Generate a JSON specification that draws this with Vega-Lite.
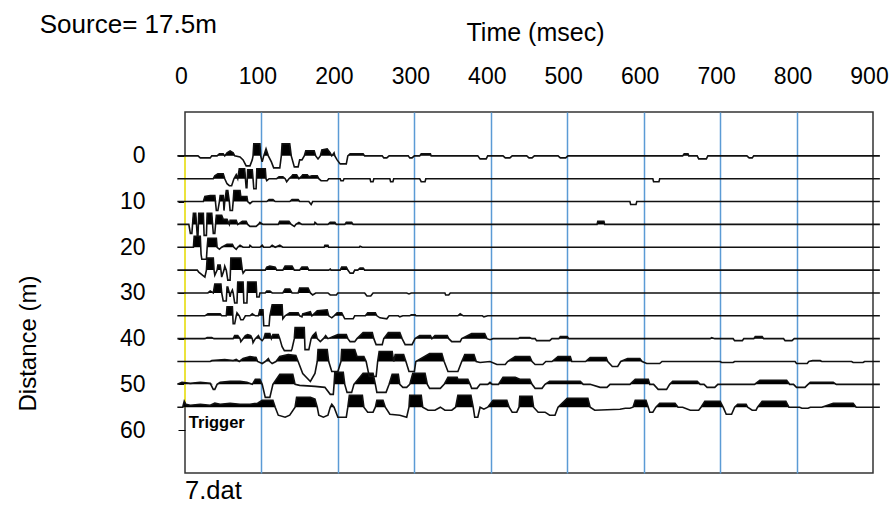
{
 "$schema": "https://vega.github.io/schema/vega-lite/v6.json",
 "width": 688, "height": 361,
 "autosize": {"type": "none"},
 "padding": {"left": 185, "top": 112, "right": 16, "bottom": 35},
 "background": "white",
 "config": {"view": {"stroke": "#333333", "strokeWidth": 1.5}, "font": "Liberation Sans"},
 "datasets": {
  "traces": [
{"d":0,"t":-10,"a":0},{"d":0,"t":17,"a":0},{"d":0,"t":20,"a":-2},{"d":0,"t":33,"a":-2},{"d":0,"t":35,"a":0},{"d":0,"t":42,"a":0},{"d":0,"t":45,"a":2},{"d":0,"t":50,"a":2},{"d":0,"t":52,"a":0},{"d":0,"t":55,"a":3},{"d":0,"t":59,"a":5},{"d":0,"t":63,"a":3},{"d":0,"t":65,"a":0},{"d":0,"t":72,"a":-1},{"d":0,"t":76,"a":-4},{"d":0,"t":80,"a":-10},{"d":0,"t":85,"a":-10},{"d":0,"t":88,"a":-4},{"d":0,"t":89,"a":0},{"d":0,"t":90,"a":12},{"d":0,"t":98,"a":12},{"d":0,"t":99,"a":0},{"d":0,"t":101,"a":-6},{"d":0,"t":103,"a":0},{"d":0,"t":106,"a":7},{"d":0,"t":109,"a":0},{"d":0,"t":113,"a":-6},{"d":0,"t":116,"a":-12},{"d":0,"t":124,"a":-12},{"d":0,"t":126,"a":0},{"d":0,"t":127,"a":12},{"d":0,"t":137,"a":12},{"d":0,"t":139,"a":0},{"d":0,"t":143,"a":-11},{"d":0,"t":148,"a":-11},{"d":0,"t":150,"a":-4},{"d":0,"t":153,"a":-4},{"d":0,"t":156,"a":0},{"d":0,"t":158,"a":5},{"d":0,"t":169,"a":5},{"d":0,"t":171,"a":0},{"d":0,"t":174,"a":-3},{"d":0,"t":177,"a":0},{"d":0,"t":179,"a":6},{"d":0,"t":186,"a":7},{"d":0,"t":190,"a":3},{"d":0,"t":192,"a":0},{"d":0,"t":195,"a":3},{"d":0,"t":196,"a":0},{"d":0,"t":199,"a":-4},{"d":0,"t":203,"a":-8},{"d":0,"t":211,"a":-8},{"d":0,"t":213,"a":0},{"d":0,"t":216,"a":2},{"d":0,"t":233,"a":2},{"d":0,"t":235,"a":0},{"d":0,"t":258,"a":0},{"d":0,"t":260,"a":-2},{"d":0,"t":264,"a":-2},{"d":0,"t":267,"a":0},{"d":0,"t":292,"a":0},{"d":0,"t":294,"a":-2},{"d":0,"t":297,"a":-2},{"d":0,"t":300,"a":0},{"d":0,"t":307,"a":0},{"d":0,"t":309,"a":2},{"d":0,"t":321,"a":2},{"d":0,"t":322,"a":0},{"d":0,"t":383,"a":0},{"d":0,"t":386,"a":-3},{"d":0,"t":394,"a":-3},{"d":0,"t":396,"a":0},{"d":0,"t":416,"a":0},{"d":0,"t":419,"a":-2},{"d":0,"t":425,"a":-2},{"d":0,"t":428,"a":0},{"d":0,"t":447,"a":0},{"d":0,"t":450,"a":-2},{"d":0,"t":454,"a":-2},{"d":0,"t":457,"a":0},{"d":0,"t":488,"a":0},{"d":0,"t":491,"a":-2},{"d":0,"t":498,"a":-2},{"d":0,"t":501,"a":0},{"d":0,"t":651,"a":0},{"d":0,"t":653,"a":2},{"d":0,"t":658,"a":2},{"d":0,"t":659,"a":0},{"d":0,"t":670,"a":0},{"d":0,"t":672,"a":-3},{"d":0,"t":682,"a":-3},{"d":0,"t":684,"a":0},{"d":0,"t":735,"a":0},{"d":0,"t":738,"a":-2},{"d":0,"t":742,"a":-2},{"d":0,"t":744,"a":0},{"d":0,"t":909,"a":0},
{"d":5,"t":-10,"a":0},{"d":5,"t":37,"a":0},{"d":5,"t":39,"a":3},{"d":5,"t":43,"a":5},{"d":5,"t":50,"a":5},{"d":5,"t":52,"a":0},{"d":5,"t":55,"a":-5},{"d":5,"t":58,"a":-7},{"d":5,"t":61,"a":-7},{"d":5,"t":64,"a":0},{"d":5,"t":67,"a":4},{"d":5,"t":69,"a":0},{"d":5,"t":71,"a":10},{"d":5,"t":78,"a":10},{"d":5,"t":80,"a":-9},{"d":5,"t":81,"a":-9},{"d":5,"t":82,"a":9},{"d":5,"t":88,"a":9},{"d":5,"t":89,"a":0},{"d":5,"t":90,"a":-10},{"d":5,"t":93,"a":-10},{"d":5,"t":94,"a":10},{"d":5,"t":105,"a":10},{"d":5,"t":106,"a":0},{"d":5,"t":107,"a":-2},{"d":5,"t":110,"a":0},{"d":5,"t":120,"a":0},{"d":5,"t":123,"a":2},{"d":5,"t":128,"a":2},{"d":5,"t":131,"a":0},{"d":5,"t":133,"a":-3},{"d":5,"t":136,"a":0},{"d":5,"t":139,"a":2},{"d":5,"t":141,"a":4},{"d":5,"t":146,"a":4},{"d":5,"t":149,"a":0},{"d":5,"t":152,"a":2},{"d":5,"t":154,"a":4},{"d":5,"t":160,"a":4},{"d":5,"t":162,"a":2},{"d":5,"t":166,"a":3},{"d":5,"t":173,"a":3},{"d":5,"t":175,"a":0},{"d":5,"t":178,"a":-2},{"d":5,"t":186,"a":-2},{"d":5,"t":188,"a":0},{"d":5,"t":203,"a":0},{"d":5,"t":204,"a":-2},{"d":5,"t":207,"a":-2},{"d":5,"t":208,"a":0},{"d":5,"t":242,"a":0},{"d":5,"t":243,"a":-3},{"d":5,"t":246,"a":-3},{"d":5,"t":247,"a":0},{"d":5,"t":268,"a":0},{"d":5,"t":269,"a":-3},{"d":5,"t":272,"a":-3},{"d":5,"t":273,"a":0},{"d":5,"t":307,"a":0},{"d":5,"t":309,"a":-3},{"d":5,"t":314,"a":-3},{"d":5,"t":315,"a":0},{"d":5,"t":612,"a":0},{"d":5,"t":613,"a":-3},{"d":5,"t":620,"a":-3},{"d":5,"t":621,"a":0},{"d":5,"t":909,"a":0},
{"d":10,"t":-10,"a":0},{"d":10,"t":24,"a":0},{"d":10,"t":26,"a":5},{"d":10,"t":33,"a":6},{"d":10,"t":39,"a":6},{"d":10,"t":41,"a":-9},{"d":10,"t":43,"a":-9},{"d":10,"t":45,"a":0},{"d":10,"t":46,"a":6},{"d":10,"t":50,"a":6},{"d":10,"t":51,"a":-9},{"d":10,"t":52,"a":0},{"d":10,"t":54,"a":11},{"d":10,"t":56,"a":11},{"d":10,"t":58,"a":0},{"d":10,"t":59,"a":-9},{"d":10,"t":62,"a":-9},{"d":10,"t":63,"a":0},{"d":10,"t":64,"a":11},{"d":10,"t":72,"a":11},{"d":10,"t":73,"a":5},{"d":10,"t":81,"a":5},{"d":10,"t":82,"a":0},{"d":10,"t":85,"a":-2},{"d":10,"t":88,"a":0},{"d":10,"t":107,"a":0},{"d":10,"t":110,"a":2},{"d":10,"t":115,"a":2},{"d":10,"t":118,"a":0},{"d":10,"t":137,"a":0},{"d":10,"t":140,"a":2},{"d":10,"t":148,"a":2},{"d":10,"t":150,"a":0},{"d":10,"t":162,"a":0},{"d":10,"t":165,"a":-3},{"d":10,"t":167,"a":0},{"d":10,"t":582,"a":0},{"d":10,"t":583,"a":-3},{"d":10,"t":590,"a":-3},{"d":10,"t":591,"a":0},{"d":10,"t":909,"a":0},
{"d":15,"t":-10,"a":0},{"d":15,"t":5,"a":0},{"d":15,"t":7,"a":-9},{"d":15,"t":9,"a":-9},{"d":15,"t":11,"a":11},{"d":15,"t":14,"a":11},{"d":15,"t":16,"a":-11},{"d":15,"t":17,"a":-11},{"d":15,"t":18,"a":11},{"d":15,"t":24,"a":11},{"d":15,"t":25,"a":-11},{"d":15,"t":28,"a":-11},{"d":15,"t":29,"a":11},{"d":15,"t":35,"a":11},{"d":15,"t":37,"a":-9},{"d":15,"t":39,"a":-9},{"d":15,"t":41,"a":9},{"d":15,"t":48,"a":9},{"d":15,"t":50,"a":5},{"d":15,"t":55,"a":5},{"d":15,"t":58,"a":0},{"d":15,"t":59,"a":4},{"d":15,"t":67,"a":4},{"d":15,"t":69,"a":0},{"d":15,"t":75,"a":3},{"d":15,"t":80,"a":3},{"d":15,"t":82,"a":0},{"d":15,"t":85,"a":-2},{"d":15,"t":93,"a":-2},{"d":15,"t":96,"a":0},{"d":15,"t":98,"a":2},{"d":15,"t":102,"a":0},{"d":15,"t":122,"a":0},{"d":15,"t":124,"a":3},{"d":15,"t":136,"a":3},{"d":15,"t":139,"a":0},{"d":15,"t":143,"a":-2},{"d":15,"t":145,"a":0},{"d":15,"t":149,"a":2},{"d":15,"t":153,"a":0},{"d":15,"t":169,"a":0},{"d":15,"t":170,"a":2},{"d":15,"t":173,"a":0},{"d":15,"t":187,"a":0},{"d":15,"t":190,"a":2},{"d":15,"t":196,"a":2},{"d":15,"t":198,"a":0},{"d":15,"t":209,"a":0},{"d":15,"t":211,"a":2},{"d":15,"t":218,"a":2},{"d":15,"t":220,"a":0},{"d":15,"t":539,"a":0},{"d":15,"t":540,"a":3},{"d":15,"t":548,"a":3},{"d":15,"t":549,"a":0},{"d":15,"t":909,"a":0},
{"d":20,"t":-10,"a":0},{"d":20,"t":11,"a":0},{"d":20,"t":12,"a":11},{"d":20,"t":20,"a":11},{"d":20,"t":21,"a":-7},{"d":20,"t":22,"a":-12},{"d":20,"t":28,"a":-12},{"d":20,"t":29,"a":0},{"d":20,"t":30,"a":9},{"d":20,"t":41,"a":9},{"d":20,"t":42,"a":0},{"d":20,"t":45,"a":-2},{"d":20,"t":48,"a":0},{"d":20,"t":55,"a":3},{"d":20,"t":62,"a":3},{"d":20,"t":64,"a":0},{"d":20,"t":67,"a":-2},{"d":20,"t":69,"a":0},{"d":20,"t":72,"a":2},{"d":20,"t":76,"a":0},{"d":20,"t":84,"a":0},{"d":20,"t":85,"a":2},{"d":20,"t":88,"a":0},{"d":20,"t":98,"a":0},{"d":20,"t":101,"a":2},{"d":20,"t":103,"a":0},{"d":20,"t":111,"a":0},{"d":20,"t":114,"a":2},{"d":20,"t":118,"a":0},{"d":20,"t":124,"a":2},{"d":20,"t":128,"a":0},{"d":20,"t":182,"a":0},{"d":20,"t":183,"a":2},{"d":20,"t":187,"a":2},{"d":20,"t":188,"a":0},{"d":20,"t":228,"a":0},{"d":20,"t":229,"a":1},{"d":20,"t":232,"a":0},{"d":20,"t":909,"a":0},
{"d":25,"t":-10,"a":0},{"d":25,"t":16,"a":0},{"d":25,"t":18,"a":-2},{"d":25,"t":26,"a":-7},{"d":25,"t":28,"a":0},{"d":25,"t":29,"a":12},{"d":25,"t":37,"a":12},{"d":25,"t":38,"a":0},{"d":25,"t":39,"a":-5},{"d":25,"t":42,"a":0},{"d":25,"t":43,"a":5},{"d":25,"t":46,"a":5},{"d":25,"t":47,"a":0},{"d":25,"t":48,"a":-7},{"d":25,"t":51,"a":0},{"d":25,"t":52,"a":4},{"d":25,"t":54,"a":0},{"d":25,"t":56,"a":-10},{"d":25,"t":59,"a":-10},{"d":25,"t":60,"a":12},{"d":25,"t":73,"a":12},{"d":25,"t":75,"a":0},{"d":25,"t":76,"a":-3},{"d":25,"t":79,"a":0},{"d":25,"t":105,"a":0},{"d":25,"t":107,"a":3},{"d":25,"t":111,"a":4},{"d":25,"t":118,"a":3},{"d":25,"t":120,"a":0},{"d":25,"t":128,"a":0},{"d":25,"t":131,"a":4},{"d":25,"t":140,"a":4},{"d":25,"t":143,"a":0},{"d":25,"t":150,"a":0},{"d":25,"t":153,"a":3},{"d":25,"t":160,"a":3},{"d":25,"t":162,"a":0},{"d":25,"t":188,"a":0},{"d":25,"t":190,"a":1},{"d":25,"t":191,"a":0},{"d":25,"t":203,"a":0},{"d":25,"t":205,"a":3},{"d":25,"t":211,"a":3},{"d":25,"t":213,"a":0},{"d":25,"t":216,"a":-3},{"d":25,"t":220,"a":-3},{"d":25,"t":222,"a":0},{"d":25,"t":226,"a":0},{"d":25,"t":229,"a":2},{"d":25,"t":233,"a":2},{"d":25,"t":235,"a":0},{"d":25,"t":909,"a":0},
{"d":30,"t":-10,"a":0},{"d":30,"t":30,"a":0},{"d":30,"t":33,"a":2},{"d":30,"t":37,"a":0},{"d":30,"t":39,"a":9},{"d":30,"t":47,"a":9},{"d":30,"t":48,"a":0},{"d":30,"t":50,"a":-8},{"d":30,"t":54,"a":-8},{"d":30,"t":55,"a":6},{"d":30,"t":56,"a":6},{"d":30,"t":58,"a":0},{"d":30,"t":59,"a":-4},{"d":30,"t":60,"a":0},{"d":30,"t":62,"a":3},{"d":30,"t":63,"a":0},{"d":30,"t":65,"a":-10},{"d":30,"t":68,"a":-10},{"d":30,"t":69,"a":11},{"d":30,"t":76,"a":11},{"d":30,"t":77,"a":-10},{"d":30,"t":81,"a":-10},{"d":30,"t":82,"a":11},{"d":30,"t":93,"a":11},{"d":30,"t":94,"a":-4},{"d":30,"t":97,"a":-4},{"d":30,"t":98,"a":0},{"d":30,"t":105,"a":0},{"d":30,"t":107,"a":2},{"d":30,"t":111,"a":2},{"d":30,"t":114,"a":0},{"d":30,"t":128,"a":0},{"d":30,"t":131,"a":4},{"d":30,"t":137,"a":4},{"d":30,"t":140,"a":0},{"d":30,"t":148,"a":0},{"d":30,"t":150,"a":5},{"d":30,"t":161,"a":5},{"d":30,"t":164,"a":0},{"d":30,"t":167,"a":-2},{"d":30,"t":171,"a":0},{"d":30,"t":187,"a":0},{"d":30,"t":190,"a":-2},{"d":30,"t":198,"a":-2},{"d":30,"t":200,"a":0},{"d":30,"t":235,"a":0},{"d":30,"t":238,"a":-3},{"d":30,"t":243,"a":-3},{"d":30,"t":246,"a":0},{"d":30,"t":290,"a":0},{"d":30,"t":293,"a":-1},{"d":30,"t":296,"a":0},{"d":30,"t":340,"a":0},{"d":30,"t":341,"a":-2},{"d":30,"t":345,"a":-2},{"d":30,"t":347,"a":0},{"d":30,"t":909,"a":0},
{"d":35,"t":-10,"a":0},{"d":35,"t":26,"a":0},{"d":35,"t":30,"a":2},{"d":35,"t":46,"a":2},{"d":35,"t":48,"a":0},{"d":35,"t":54,"a":0},{"d":35,"t":55,"a":9},{"d":35,"t":62,"a":9},{"d":35,"t":63,"a":-8},{"d":35,"t":65,"a":-8},{"d":35,"t":67,"a":0},{"d":35,"t":68,"a":3},{"d":35,"t":71,"a":0},{"d":35,"t":73,"a":-4},{"d":35,"t":76,"a":-4},{"d":35,"t":79,"a":0},{"d":35,"t":85,"a":0},{"d":35,"t":88,"a":2},{"d":35,"t":92,"a":0},{"d":35,"t":96,"a":0},{"d":35,"t":98,"a":6},{"d":35,"t":102,"a":6},{"d":35,"t":103,"a":-10},{"d":35,"t":110,"a":-10},{"d":35,"t":111,"a":0},{"d":35,"t":114,"a":11},{"d":35,"t":127,"a":11},{"d":35,"t":128,"a":-3},{"d":35,"t":131,"a":0},{"d":35,"t":137,"a":3},{"d":35,"t":148,"a":3},{"d":35,"t":150,"a":0},{"d":35,"t":153,"a":-1},{"d":35,"t":154,"a":2},{"d":35,"t":164,"a":4},{"d":35,"t":166,"a":0},{"d":35,"t":173,"a":5},{"d":35,"t":186,"a":6},{"d":35,"t":188,"a":0},{"d":35,"t":192,"a":-2},{"d":35,"t":195,"a":0},{"d":35,"t":199,"a":3},{"d":35,"t":205,"a":3},{"d":35,"t":207,"a":0},{"d":35,"t":209,"a":-3},{"d":35,"t":220,"a":-3},{"d":35,"t":222,"a":0},{"d":35,"t":236,"a":0},{"d":35,"t":239,"a":3},{"d":35,"t":249,"a":3},{"d":35,"t":251,"a":0},{"d":35,"t":255,"a":-2},{"d":35,"t":264,"a":-3},{"d":35,"t":267,"a":0},{"d":35,"t":279,"a":0},{"d":35,"t":281,"a":-1},{"d":35,"t":285,"a":0},{"d":35,"t":294,"a":0},{"d":35,"t":296,"a":1},{"d":35,"t":301,"a":1},{"d":35,"t":302,"a":0},{"d":35,"t":357,"a":0},{"d":35,"t":360,"a":2},{"d":35,"t":364,"a":0},{"d":35,"t":389,"a":0},{"d":35,"t":391,"a":-1},{"d":35,"t":396,"a":0},{"d":35,"t":909,"a":0},
{"d":40,"t":-10,"a":0},{"d":40,"t":26,"a":0},{"d":40,"t":29,"a":1},{"d":40,"t":35,"a":1},{"d":40,"t":38,"a":0},{"d":40,"t":63,"a":0},{"d":40,"t":65,"a":3},{"d":40,"t":69,"a":3},{"d":40,"t":72,"a":0},{"d":40,"t":73,"a":-3},{"d":40,"t":76,"a":0},{"d":40,"t":79,"a":3},{"d":40,"t":82,"a":4},{"d":40,"t":86,"a":3},{"d":40,"t":88,"a":0},{"d":40,"t":89,"a":-4},{"d":40,"t":92,"a":0},{"d":40,"t":96,"a":3},{"d":40,"t":98,"a":0},{"d":40,"t":101,"a":-2},{"d":40,"t":103,"a":0},{"d":40,"t":105,"a":5},{"d":40,"t":111,"a":5},{"d":40,"t":113,"a":0},{"d":40,"t":115,"a":4},{"d":40,"t":122,"a":4},{"d":40,"t":124,"a":0},{"d":40,"t":127,"a":-8},{"d":40,"t":130,"a":-12},{"d":40,"t":139,"a":-12},{"d":40,"t":140,"a":-10},{"d":40,"t":143,"a":0},{"d":40,"t":144,"a":11},{"d":40,"t":156,"a":11},{"d":40,"t":157,"a":-11},{"d":40,"t":162,"a":-11},{"d":40,"t":165,"a":0},{"d":40,"t":167,"a":3},{"d":40,"t":171,"a":6},{"d":40,"t":173,"a":0},{"d":40,"t":177,"a":-3},{"d":40,"t":181,"a":0},{"d":40,"t":184,"a":3},{"d":40,"t":187,"a":0},{"d":40,"t":200,"a":4},{"d":40,"t":211,"a":4},{"d":40,"t":213,"a":0},{"d":40,"t":216,"a":-3},{"d":40,"t":222,"a":-3},{"d":40,"t":225,"a":0},{"d":40,"t":233,"a":6},{"d":40,"t":245,"a":6},{"d":40,"t":247,"a":0},{"d":40,"t":250,"a":-6},{"d":40,"t":258,"a":-6},{"d":40,"t":260,"a":0},{"d":40,"t":266,"a":6},{"d":40,"t":281,"a":6},{"d":40,"t":284,"a":0},{"d":40,"t":288,"a":-6},{"d":40,"t":297,"a":-6},{"d":40,"t":301,"a":0},{"d":40,"t":307,"a":3},{"d":40,"t":321,"a":3},{"d":40,"t":323,"a":0},{"d":40,"t":327,"a":3},{"d":40,"t":343,"a":3},{"d":40,"t":345,"a":0},{"d":40,"t":349,"a":-3},{"d":40,"t":360,"a":-3},{"d":40,"t":362,"a":0},{"d":40,"t":375,"a":5},{"d":40,"t":392,"a":5},{"d":40,"t":395,"a":0},{"d":40,"t":399,"a":-1},{"d":40,"t":403,"a":0},{"d":40,"t":436,"a":0},{"d":40,"t":438,"a":1},{"d":40,"t":451,"a":1},{"d":40,"t":454,"a":0},{"d":40,"t":458,"a":0},{"d":40,"t":460,"a":-2},{"d":40,"t":477,"a":-2},{"d":40,"t":480,"a":0},{"d":40,"t":489,"a":0},{"d":40,"t":491,"a":2},{"d":40,"t":500,"a":2},{"d":40,"t":502,"a":0},{"d":40,"t":687,"a":0},{"d":40,"t":689,"a":1},{"d":40,"t":693,"a":0},{"d":40,"t":717,"a":0},{"d":40,"t":719,"a":-2},{"d":40,"t":729,"a":-2},{"d":40,"t":731,"a":0},{"d":40,"t":744,"a":0},{"d":40,"t":746,"a":2},{"d":40,"t":755,"a":2},{"d":40,"t":757,"a":0},{"d":40,"t":783,"a":0},{"d":40,"t":785,"a":-2},{"d":40,"t":794,"a":-2},{"d":40,"t":797,"a":0},{"d":40,"t":909,"a":0},
{"d":45,"t":-10,"a":0},{"d":45,"t":33,"a":0},{"d":45,"t":35,"a":1},{"d":45,"t":52,"a":2},{"d":45,"t":63,"a":1},{"d":45,"t":67,"a":2},{"d":45,"t":71,"a":0},{"d":45,"t":76,"a":3},{"d":45,"t":85,"a":5},{"d":45,"t":93,"a":4},{"d":45,"t":95,"a":0},{"d":45,"t":101,"a":-2},{"d":45,"t":105,"a":0},{"d":45,"t":109,"a":3},{"d":45,"t":111,"a":0},{"d":45,"t":114,"a":-2},{"d":45,"t":119,"a":0},{"d":45,"t":124,"a":5},{"d":45,"t":135,"a":7},{"d":45,"t":145,"a":6},{"d":45,"t":148,"a":0},{"d":45,"t":154,"a":-12},{"d":45,"t":164,"a":-20},{"d":45,"t":170,"a":-12},{"d":45,"t":173,"a":0},{"d":45,"t":174,"a":12},{"d":45,"t":186,"a":12},{"d":45,"t":188,"a":0},{"d":45,"t":192,"a":-10},{"d":45,"t":200,"a":-10},{"d":45,"t":204,"a":0},{"d":45,"t":205,"a":12},{"d":45,"t":222,"a":12},{"d":45,"t":225,"a":5},{"d":45,"t":234,"a":5},{"d":45,"t":237,"a":0},{"d":45,"t":241,"a":-15},{"d":45,"t":250,"a":-15},{"d":45,"t":252,"a":0},{"d":45,"t":254,"a":10},{"d":45,"t":271,"a":10},{"d":45,"t":273,"a":0},{"d":45,"t":275,"a":7},{"d":45,"t":286,"a":7},{"d":45,"t":289,"a":0},{"d":45,"t":293,"a":-10},{"d":45,"t":300,"a":-10},{"d":45,"t":302,"a":0},{"d":45,"t":320,"a":8},{"d":45,"t":336,"a":8},{"d":45,"t":339,"a":0},{"d":45,"t":344,"a":-10},{"d":45,"t":357,"a":-10},{"d":45,"t":362,"a":0},{"d":45,"t":366,"a":7},{"d":45,"t":378,"a":7},{"d":45,"t":381,"a":0},{"d":45,"t":386,"a":-1},{"d":45,"t":399,"a":0},{"d":45,"t":408,"a":-3},{"d":45,"t":419,"a":-3},{"d":45,"t":422,"a":0},{"d":45,"t":432,"a":5},{"d":45,"t":451,"a":5},{"d":45,"t":454,"a":0},{"d":45,"t":458,"a":-3},{"d":45,"t":468,"a":-3},{"d":45,"t":472,"a":0},{"d":45,"t":480,"a":0},{"d":45,"t":488,"a":5},{"d":45,"t":504,"a":5},{"d":45,"t":506,"a":0},{"d":45,"t":524,"a":0},{"d":45,"t":530,"a":4},{"d":45,"t":551,"a":4},{"d":45,"t":553,"a":0},{"d":45,"t":559,"a":-5},{"d":45,"t":566,"a":-5},{"d":45,"t":570,"a":0},{"d":45,"t":579,"a":3},{"d":45,"t":595,"a":3},{"d":45,"t":598,"a":0},{"d":45,"t":604,"a":-2},{"d":45,"t":621,"a":-2},{"d":45,"t":624,"a":0},{"d":45,"t":700,"a":0},{"d":45,"t":702,"a":-1},{"d":45,"t":717,"a":-1},{"d":45,"t":719,"a":0},{"d":45,"t":798,"a":0},{"d":45,"t":800,"a":-2},{"d":45,"t":814,"a":-2},{"d":45,"t":816,"a":0},{"d":45,"t":821,"a":1},{"d":45,"t":831,"a":1},{"d":45,"t":833,"a":0},{"d":45,"t":872,"a":0},{"d":45,"t":874,"a":-1},{"d":45,"t":887,"a":-1},{"d":45,"t":889,"a":0},{"d":45,"t":909,"a":0},
{"d":50,"t":-10,"a":0},{"d":50,"t":-4,"a":2},{"d":50,"t":7,"a":1},{"d":50,"t":20,"a":2},{"d":50,"t":33,"a":1},{"d":50,"t":37,"a":-5},{"d":50,"t":39,"a":-5},{"d":50,"t":42,"a":0},{"d":50,"t":46,"a":2},{"d":50,"t":59,"a":3},{"d":50,"t":72,"a":3},{"d":50,"t":81,"a":2},{"d":50,"t":88,"a":0},{"d":50,"t":92,"a":5},{"d":50,"t":98,"a":5},{"d":50,"t":101,"a":0},{"d":50,"t":105,"a":-13},{"d":50,"t":111,"a":-13},{"d":50,"t":115,"a":0},{"d":50,"t":124,"a":10},{"d":50,"t":141,"a":10},{"d":50,"t":144,"a":0},{"d":50,"t":150,"a":-1},{"d":50,"t":170,"a":-2},{"d":50,"t":183,"a":-3},{"d":50,"t":190,"a":-10},{"d":50,"t":194,"a":-10},{"d":50,"t":195,"a":0},{"d":50,"t":196,"a":12},{"d":50,"t":207,"a":12},{"d":50,"t":209,"a":0},{"d":50,"t":212,"a":-8},{"d":50,"t":218,"a":-8},{"d":50,"t":221,"a":0},{"d":50,"t":233,"a":11},{"d":50,"t":246,"a":11},{"d":50,"t":249,"a":0},{"d":50,"t":251,"a":-8},{"d":50,"t":263,"a":-8},{"d":50,"t":267,"a":0},{"d":50,"t":271,"a":10},{"d":50,"t":279,"a":10},{"d":50,"t":281,"a":0},{"d":50,"t":285,"a":-3},{"d":50,"t":290,"a":-3},{"d":50,"t":294,"a":0},{"d":50,"t":298,"a":11},{"d":50,"t":314,"a":11},{"d":50,"t":317,"a":0},{"d":50,"t":320,"a":-4},{"d":50,"t":334,"a":-4},{"d":50,"t":339,"a":0},{"d":50,"t":344,"a":7},{"d":50,"t":356,"a":7},{"d":50,"t":357,"a":5},{"d":50,"t":370,"a":5},{"d":50,"t":373,"a":0},{"d":50,"t":375,"a":-4},{"d":50,"t":382,"a":-4},{"d":50,"t":386,"a":0},{"d":50,"t":396,"a":0},{"d":50,"t":399,"a":2},{"d":50,"t":402,"a":0},{"d":50,"t":410,"a":0},{"d":50,"t":416,"a":7},{"d":50,"t":432,"a":7},{"d":50,"t":438,"a":5},{"d":50,"t":451,"a":5},{"d":50,"t":454,"a":0},{"d":50,"t":458,"a":-4},{"d":50,"t":467,"a":-4},{"d":50,"t":471,"a":0},{"d":50,"t":477,"a":3},{"d":50,"t":500,"a":3},{"d":50,"t":504,"a":3},{"d":50,"t":517,"a":3},{"d":50,"t":521,"a":0},{"d":50,"t":530,"a":0},{"d":50,"t":543,"a":-3},{"d":50,"t":552,"a":-3},{"d":50,"t":556,"a":0},{"d":50,"t":582,"a":0},{"d":50,"t":589,"a":5},{"d":50,"t":606,"a":5},{"d":50,"t":608,"a":0},{"d":50,"t":613,"a":0},{"d":50,"t":619,"a":-5},{"d":50,"t":630,"a":-5},{"d":50,"t":634,"a":0},{"d":50,"t":638,"a":3},{"d":50,"t":670,"a":3},{"d":50,"t":674,"a":0},{"d":50,"t":679,"a":0},{"d":50,"t":683,"a":-3},{"d":50,"t":693,"a":-3},{"d":50,"t":697,"a":0},{"d":50,"t":745,"a":0},{"d":50,"t":752,"a":4},{"d":50,"t":787,"a":4},{"d":50,"t":791,"a":0},{"d":50,"t":796,"a":0},{"d":50,"t":800,"a":-3},{"d":50,"t":811,"a":-3},{"d":50,"t":815,"a":0},{"d":50,"t":818,"a":2},{"d":50,"t":848,"a":2},{"d":50,"t":852,"a":0},{"d":50,"t":909,"a":0},
{"d":55,"t":-10,"a":0},{"d":55,"t":-3,"a":0},{"d":55,"t":-1,"a":6},{"d":55,"t":1,"a":3},{"d":55,"t":7,"a":2},{"d":55,"t":20,"a":3},{"d":55,"t":33,"a":2},{"d":55,"t":39,"a":4},{"d":55,"t":46,"a":3},{"d":55,"t":59,"a":4},{"d":55,"t":72,"a":3},{"d":55,"t":85,"a":3},{"d":55,"t":95,"a":4},{"d":55,"t":101,"a":7},{"d":55,"t":115,"a":7},{"d":55,"t":118,"a":0},{"d":55,"t":122,"a":-8},{"d":55,"t":131,"a":-10},{"d":55,"t":137,"a":-8},{"d":55,"t":144,"a":0},{"d":55,"t":146,"a":10},{"d":55,"t":164,"a":10},{"d":55,"t":170,"a":8},{"d":55,"t":173,"a":0},{"d":55,"t":175,"a":-8},{"d":55,"t":181,"a":-10},{"d":55,"t":187,"a":-8},{"d":55,"t":190,"a":0},{"d":55,"t":192,"a":3},{"d":55,"t":195,"a":0},{"d":55,"t":200,"a":-10},{"d":55,"t":211,"a":-10},{"d":55,"t":213,"a":0},{"d":55,"t":215,"a":12},{"d":55,"t":232,"a":12},{"d":55,"t":234,"a":0},{"d":55,"t":239,"a":-5},{"d":55,"t":246,"a":-5},{"d":55,"t":249,"a":0},{"d":55,"t":251,"a":7},{"d":55,"t":259,"a":7},{"d":55,"t":262,"a":0},{"d":55,"t":268,"a":-7},{"d":55,"t":281,"a":-8},{"d":55,"t":290,"a":-10},{"d":55,"t":293,"a":0},{"d":55,"t":294,"a":12},{"d":55,"t":309,"a":12},{"d":55,"t":311,"a":0},{"d":55,"t":318,"a":-3},{"d":55,"t":327,"a":-3},{"d":55,"t":334,"a":0},{"d":55,"t":340,"a":-3},{"d":55,"t":349,"a":-3},{"d":55,"t":354,"a":0},{"d":55,"t":357,"a":12},{"d":55,"t":374,"a":12},{"d":55,"t":377,"a":0},{"d":55,"t":379,"a":-10},{"d":55,"t":383,"a":-10},{"d":55,"t":386,"a":0},{"d":55,"t":391,"a":-2},{"d":55,"t":396,"a":0},{"d":55,"t":403,"a":7},{"d":55,"t":421,"a":7},{"d":55,"t":424,"a":0},{"d":55,"t":428,"a":-5},{"d":55,"t":434,"a":-5},{"d":55,"t":437,"a":0},{"d":55,"t":438,"a":11},{"d":55,"t":454,"a":11},{"d":55,"t":456,"a":0},{"d":55,"t":462,"a":-5},{"d":55,"t":471,"a":-5},{"d":55,"t":477,"a":-8},{"d":55,"t":484,"a":-8},{"d":55,"t":488,"a":0},{"d":55,"t":500,"a":9},{"d":55,"t":527,"a":9},{"d":55,"t":530,"a":0},{"d":55,"t":536,"a":-3},{"d":55,"t":569,"a":-2},{"d":55,"t":576,"a":-1},{"d":55,"t":582,"a":-1},{"d":55,"t":586,"a":0},{"d":55,"t":589,"a":7},{"d":55,"t":603,"a":7},{"d":55,"t":606,"a":0},{"d":55,"t":608,"a":-5},{"d":55,"t":612,"a":-5},{"d":55,"t":616,"a":0},{"d":55,"t":621,"a":4},{"d":55,"t":641,"a":4},{"d":55,"t":645,"a":0},{"d":55,"t":651,"a":0},{"d":55,"t":661,"a":-3},{"d":55,"t":672,"a":-3},{"d":55,"t":675,"a":0},{"d":55,"t":680,"a":6},{"d":55,"t":700,"a":6},{"d":55,"t":704,"a":0},{"d":55,"t":708,"a":-7},{"d":55,"t":715,"a":-7},{"d":55,"t":719,"a":0},{"d":55,"t":723,"a":3},{"d":55,"t":734,"a":3},{"d":55,"t":736,"a":0},{"d":55,"t":742,"a":-3},{"d":55,"t":747,"a":-3},{"d":55,"t":749,"a":0},{"d":55,"t":755,"a":6},{"d":55,"t":786,"a":6},{"d":55,"t":790,"a":0},{"d":55,"t":804,"a":0},{"d":55,"t":807,"a":-1},{"d":55,"t":815,"a":-1},{"d":55,"t":818,"a":0},{"d":55,"t":833,"a":0},{"d":55,"t":848,"a":4},{"d":55,"t":874,"a":4},{"d":55,"t":878,"a":0},{"d":55,"t":909,"a":0}
  ]
 },
 "layer": [
  {
   "data": {"values": [{"t": 0, "d0": 0, "d1": 55}]},
   "mark": {"type": "rule", "color": "#ebe33c", "strokeWidth": 2},
   "encoding": {
    "x": {"field": "t", "type": "quantitative", "title": "Time (msec)",
      "scale": {"domain": [0, 900], "nice": false, "zero": false},
      "axis": {"orient": "top", "values": [0,100,200,300,400,500,600,700,800,900], "ticks": false, "domain": false,
        "labelFontSize": 23, "labelColor": "#000", "labelPadding": 24, "labelFont": "Liberation Sans", "labelFlush": false, "labelOffset": -4,
        "grid": true, "gridColor": "#5b9bd5", "gridWidth": 1.5,
        "gridOpacity": {"condition": {"test": "datum.value == 0 || datum.value == 900", "value": 0}, "value": 1},
        "titleFontSize": 25, "titleFontWeight": "normal", "titleColor": "#000", "titleFont": "Liberation Sans",
        "titleX": 350, "titleY": -80, "titleBaseline": "middle", "titleAlign": "center"}},
    "y": {"field": "d0", "type": "quantitative", "title": "Distance (m)",
      "scale": {"domain": [-9.6, 69.4], "reverse": true, "nice": false, "zero": false},
      "axis": {"values": [0,10,20,30,40,50,60], "domain": false, "ticks": true, "tickSize": 7, "tickColor": "#000", "tickWidth": 1,
        "labelFontSize": 23, "labelColor": "#000", "labelPadding": 33, "labelFont": "Liberation Sans",
        "grid": false,
        "titleFontSize": 24, "titleFontWeight": "normal", "titleColor": "#000", "titleFont": "Liberation Sans",
        "titleX": -157, "titleY": 231, "titleAngle": -90, "titleBaseline": "middle", "titleAlign": "center"}},
    "y2": {"field": "d1"}
   }
  },
  {
   "data": {"name": "traces"},
   "transform": [{"calculate": "datum.d - max(datum.a, 0) * 0.219", "as": "fillpos"}],
   "mark": {"type": "area", "color": "#000", "interpolate": "linear"},
   "encoding": {
    "x": {"field": "t", "type": "quantitative", "title": "Time (msec)"},
    "y": {"field": "fillpos", "type": "quantitative", "title": "Distance (m)"},
    "y2": {"field": "d"},
    "detail": {"field": "d", "type": "nominal"}
   }
  },
  {
   "data": {"name": "traces"},
   "transform": [{"calculate": "datum.d - datum.a * 0.219", "as": "pos"}],
   "mark": {"type": "line", "color": "#111", "strokeWidth": 1.6, "interpolate": "linear"},
   "encoding": {
    "x": {"field": "t", "type": "quantitative", "title": "Time (msec)"},
    "y": {"field": "pos", "type": "quantitative", "title": "Distance (m)"},
    "detail": {"field": "d", "type": "nominal"}
   }
  },
  {
   "data": {"values": [{"t": -190, "d": -28.7, "label": "Source= 17.5m"}]},
   "mark": {"type": "text", "align": "left", "baseline": "middle", "fontSize": 26, "font": "Liberation Sans", "color": "#000"},
   "encoding": {
    "x": {"field": "t", "type": "quantitative", "title": "Time (msec)"},
    "y": {"field": "d", "type": "quantitative", "title": "Distance (m)"},
    "text": {"field": "label"}
   }
  },
  {
   "data": {"values": [{"t": 0, "d": 73.4, "label": "7.dat"}]},
   "mark": {"type": "text", "align": "left", "baseline": "middle", "fontSize": 25.5, "font": "Liberation Sans", "color": "#000"},
   "encoding": {
    "x": {"field": "t", "type": "quantitative", "title": "Time (msec)"},
    "y": {"field": "d", "type": "quantitative", "title": "Distance (m)"},
    "text": {"field": "label"}
   }
  },
  {
   "data": {"values": [{"t": 5, "d": 58.5, "label": "Trigger"}]},
   "mark": {"type": "text", "align": "left", "baseline": "middle", "fontSize": 16.5, "fontWeight": "bold", "font": "Liberation Sans", "color": "#000"},
   "encoding": {
    "x": {"field": "t", "type": "quantitative", "title": "Time (msec)"},
    "y": {"field": "d", "type": "quantitative", "title": "Distance (m)"},
    "text": {"field": "label"}
   }
  }
 ]
}
